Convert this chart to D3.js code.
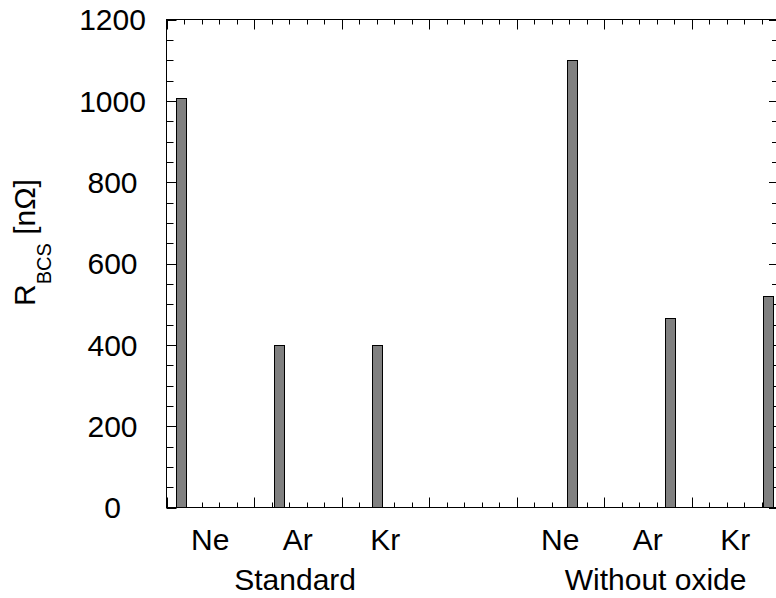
<!DOCTYPE html>
<html>
<head>
<meta charset="utf-8">
<script src="https://cdn.jsdelivr.net/npm/d3@7"></script>
<style>
  body { margin: 0; background: #fff; }
  text { font-family: "Liberation Sans", Arial, Helvetica, sans-serif; fill: #000; }
</style>
</head>
<body>
<svg id="chart" width="776" height="598"></svg>
<script>
// data
const gases = ["Ne", "Ar", "Kr"];
const groups = ["Standard", "Without oxide"];
const standardValues = [1007, 400, 400];
const noOxideValues = [1100, 465, 520];
const yTicks = [0, 200, 400, 600, 800, 1000, 1200];
// label positions in axis units (the x axis runs 0..7, no numbers shown)
const gasLabelPos = [0.5, 1.5, 2.5, 4.5, 5.5, 6.5];
const groupLabelPos = [1.47, 5.59];

// bars: 7 slots, slot 3 is the gap between the two groups
const bars = [];
gases.forEach((g, i) => bars.push({ gas: g, slot: i, value: standardValues[i] }));
gases.forEach((g, i) => bars.push({ gas: g, slot: i + 4, value: noOxideValues[i] }));

// plot frame (right edge runs just past the window)
const plotL = 166.5, plotR = 779, plotT = 19.5, plotB = 507.5;

const svg = d3.select("#chart");

const x = d3.scaleLinear().domain([0, 7]).range([plotL, plotR]);
const y = d3.scaleLinear().domain([0, 1200]).range([plotB, plotT]);
const slot = d3.scaleLinear().domain([0, 6]).range([x(0.166), x(6.87)]);

// ticks, all pointing inward
const xMajor = d3.range(0, 8, 1);
const xMinor = d3.range(0, 7.01, 0.2).filter(v => Math.abs(v - Math.round(v)) > 0.01);
const yMinor = d3.range(0, 1201, 50).filter(v => v % 200 !== 0);

const tickG = svg.append("g").attr("stroke", "#000").attr("stroke-width", 1);

function xTick(v, len) {
  const px = Math.round(x(v)) + 0.5;
  tickG.append("line").attr("x1", px).attr("x2", px).attr("y1", plotB).attr("y2", plotB - len);
  tickG.append("line").attr("x1", px).attr("x2", px).attr("y1", plotT).attr("y2", plotT + len);
}
function yTick(v, len) {
  const py = Math.round(y(v)) + 0.5;
  tickG.append("line").attr("x1", plotL).attr("x2", plotL + len).attr("y1", py).attr("y2", py);
  tickG.append("line").attr("x1", plotR).attr("x2", plotR - len).attr("y1", py).attr("y2", py);
}
xMajor.forEach(v => xTick(v, 10));
xMinor.forEach(v => xTick(v, 5));
yTicks.forEach(v => yTick(v, 10));
yMinor.forEach(v => yTick(v, 7));

// bars
svg.append("g").selectAll("rect")
  .data(bars)
  .enter()
  .append("rect")
  .attr("x", d => Math.round(slot(d.slot) - 5) + 0.5)
  .attr("y", d => Math.round(y(d.value)) + 0.5)
  .attr("width", 10)
  .attr("height", d => plotB - Math.round(y(d.value)) - 0.5)
  .attr("fill", "#808080")
  .attr("stroke", "#000")
  .attr("stroke-width", 1);

// frame
svg.append("rect")
  .attr("x", plotL).attr("y", plotT)
  .attr("width", plotR - plotL).attr("height", plotB - plotT)
  .attr("fill", "none").attr("stroke", "#000").attr("stroke-width", 1);

// y tick labels
svg.append("g").selectAll("text")
  .data(yTicks)
  .enter()
  .append("text")
  .attr("x", 112.5)
  .attr("y", d => y(d))
  .attr("dy", "0.36em")
  .attr("text-anchor", "middle")
  .style("font-size", "30px")
  .text(d => d);

// gas labels under each bar group
const gasLabels = gases.concat(gases);
svg.append("g").selectAll("text")
  .data(gasLabelPos)
  .enter()
  .append("text")
  .attr("x", d => x(d))
  .attr("y", 550)
  .attr("text-anchor", "middle")
  .style("font-size", "30px")
  .text((d, i) => gasLabels[i]);

// group labels
svg.append("g").selectAll("text")
  .data(groupLabelPos)
  .enter()
  .append("text")
  .attr("x", d => x(d))
  .attr("y", 590)
  .attr("text-anchor", "middle")
  .style("font-size", "30px")
  .text((d, i) => groups[i]);

// y axis title R_BCS [nΩ]
const yTitle = svg.append("text")
  .attr("transform", "translate(35,306) rotate(-90)")
  .style("font-size", "30px");
yTitle.append("tspan").text("R");
yTitle.append("tspan").attr("dy", 16).style("font-size", "20px").text("BCS");
yTitle.append("tspan").attr("dy", -16).text(" [nΩ]");
</script>
</body>
</html>
